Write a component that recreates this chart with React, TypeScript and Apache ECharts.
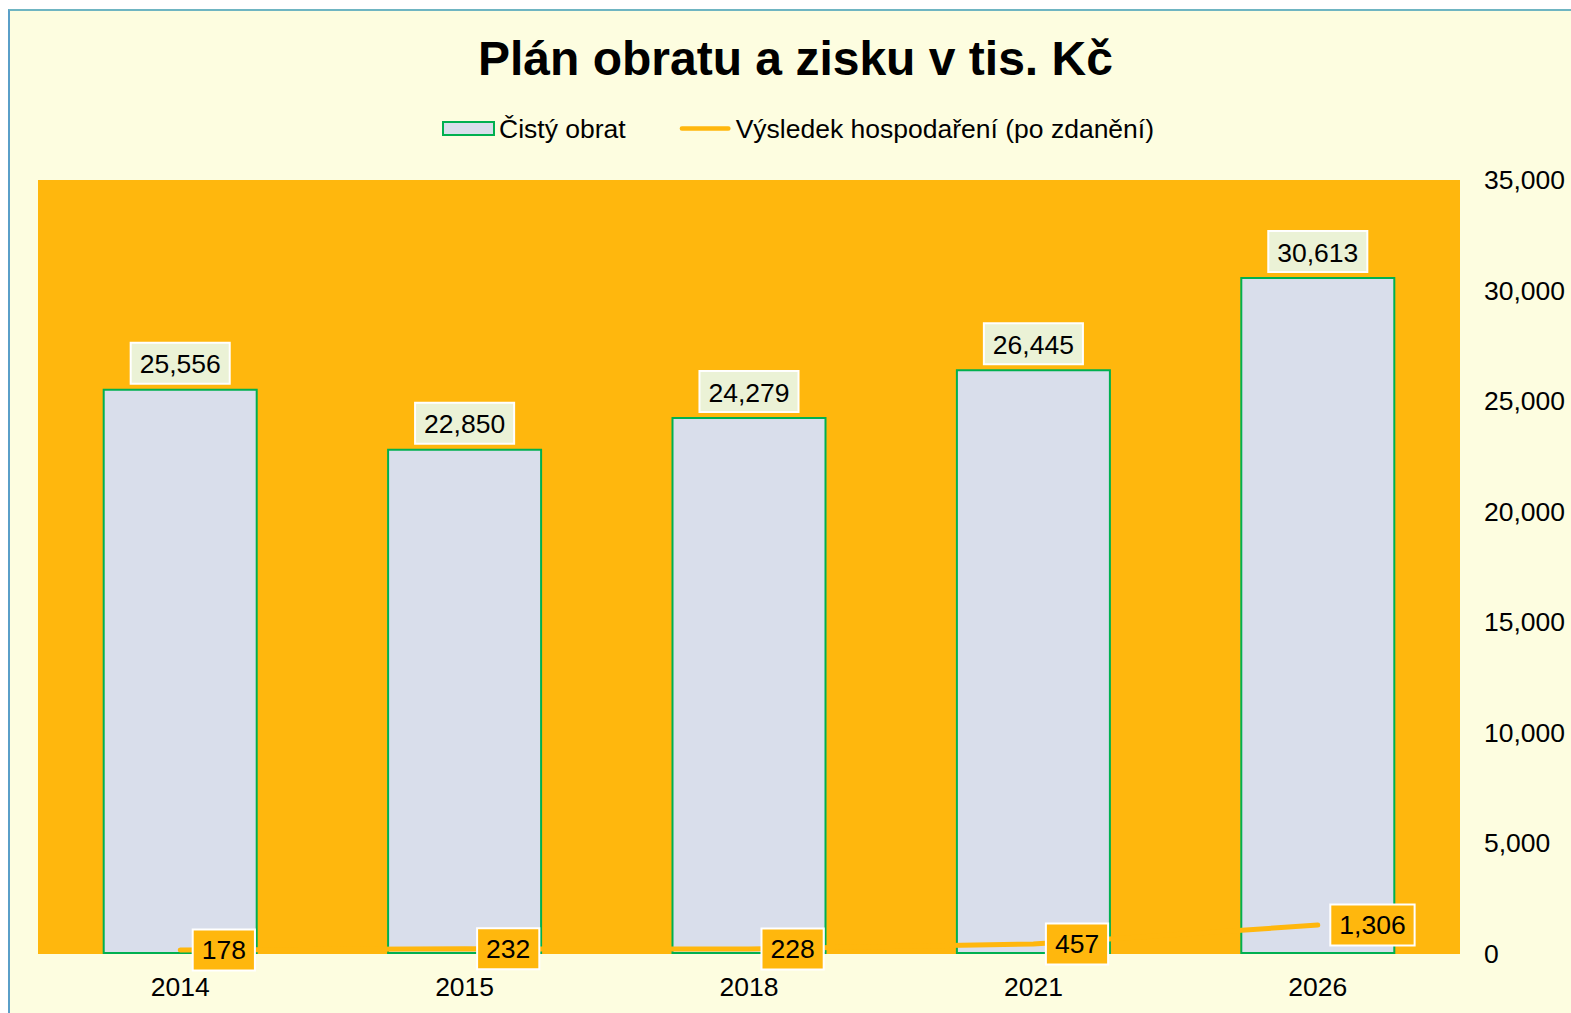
import React, { useEffect, useRef } from "react";
import * as echarts from "echarts";

const categories = ["2014", "2015", "2018", "2021", "2026"];
const turnover = [25556, 22850, 24279, 26445, 30613];
const profit = [178, 232, 228, 457, 1306];
const seriesNames = ["Čistý obrat", "Výsledek hospodaření (po zdanění)"];
const titleText = "Plán obratu a zisku v tis. Kč";

const FONT = "'Liberation Sans', Arial, sans-serif";
const ORANGE = "#FFB70D";
const FS = 26.5;
const fmt = (v: number) => v.toLocaleString("en-US");

export default function App() {
  const ref = useRef<HTMLDivElement>(null);
  useEffect(() => {
    if (!ref.current) return;
    const chart = echarts.init(ref.current, null, { renderer: "svg" });
    chart.setOption({
      animation: false,
      backgroundColor: "#FDFDE0",
      textStyle: { fontFamily: FONT, color: "#000" },
      title: {
        text: titleText,
        left: 463,
        top: 18,
        textStyle: { fontSize: 48, fontWeight: "bold", color: "#000", fontFamily: FONT },
      },
      legend: {
        top: 99,
        left: 427,
        itemWidth: 51,
        itemHeight: 13,
        itemGap: 54,
        symbolKeepAspect: true,
        textStyle: { fontSize: FS, color: "#000", fontFamily: FONT },
        data: [
          { name: seriesNames[0], icon: "rect" },
          {
            name: seriesNames[1],
            icon: "path://M2.5,0 L53.5,0 A2.5,2.5 0 0 1 53.5,5 L2.5,5 A2.5,2.5 0 0 1 2.5,0 Z",
            itemStyle: { color: ORANGE, borderWidth: 0 },
          },
        ],
      },
      grid: {
        show: true,
        backgroundColor: ORANGE,
        borderWidth: 0,
        left: 28,
        right: 111,
        top: 169,
        bottom: 59,
      },
      xAxis: {
        type: "category",
        data: categories,
        axisLine: { show: false },
        axisTick: { show: false },
        axisLabel: { fontSize: FS, color: "#000", margin: 19, fontFamily: FONT },
      },
      yAxis: {
        type: "value",
        position: "right",
        min: 0,
        max: 35000,
        interval: 5000,
        splitLine: { show: false },
        axisLine: { show: false },
        axisTick: { show: false },
        axisLabel: {
          fontSize: FS,
          color: "#000",
          margin: 24,
          align: "left",
          fontFamily: FONT,
          formatter: (v: number) => fmt(v),
        },
      },
      series: [
        {
          name: seriesNames[0],
          type: "bar",
          data: turnover,
          barWidth: 155,
          itemStyle: { color: "#D9DEEB", borderColor: "#00B050", borderWidth: 2 },
          label: {
            show: true,
            position: "top",
            distance: 6,
            fontSize: FS,
            color: "#000",
            fontFamily: FONT,
            backgroundColor: "#EBF2D6",
            borderColor: "#fff",
            borderWidth: 2,
            padding: [7, 8, 5, 8],
            formatter: (p: any) => fmt(p.value),
          },
        },
        {
          name: seriesNames[1],
          type: "line",
          data: profit,
          symbol: "circle",
          symbolSize: 1,
          showSymbol: true,
          lineStyle: { color: ORANGE, width: 5, cap: "round" },
          itemStyle: { color: ORANGE },
          label: {
            show: true,
            position: "right",
            distance: 13,
            fontSize: FS,
            color: "#000",
            fontFamily: FONT,
            backgroundColor: ORANGE,
            borderColor: "#fff",
            borderWidth: 2,
            padding: [7, 8, 5, 8],
            formatter: (p: any) => fmt(p.value),
          },
          z: 5,
        },
      ],
    });
    return () => chart.dispose();
  }, []);
  return (
    <div
      style={{
        position: "absolute",
        left: 8,
        top: 9,
        borderTop: "2px solid #6FB5C2",
        borderLeft: "2px solid #5A9FC8",
        width: 1561,
        height: 1002,
      }}
    >
      <div ref={ref} style={{ width: 1561, height: 1002 }} />
    </div>
  );
}
